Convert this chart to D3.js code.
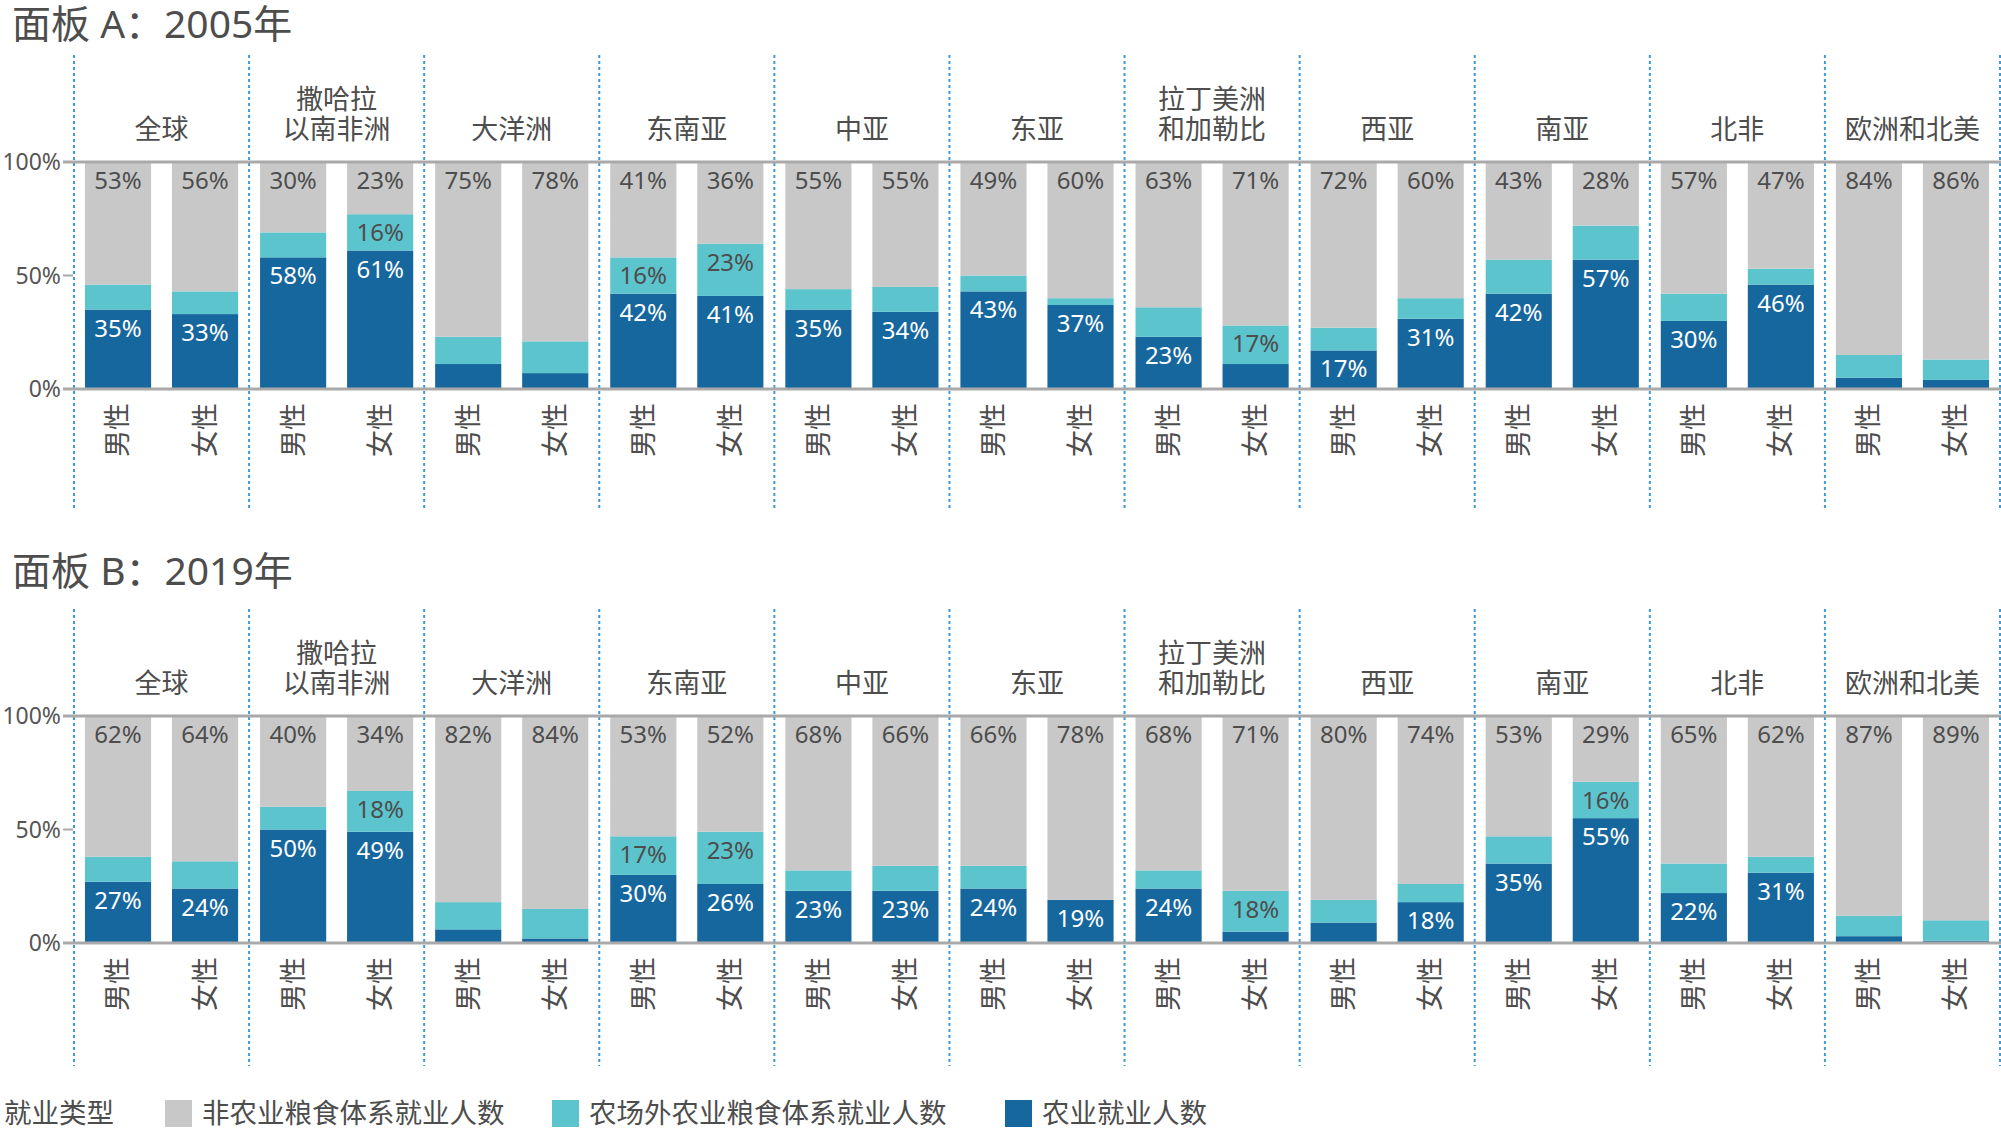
<!DOCTYPE html>
<html>
<head>
<meta charset="utf-8">
<script src="https://cdn.jsdelivr.net/npm/d3@7"></script>
<style>
  html, body { margin: 0; padding: 0; background: #ffffff; }
  svg { display: block; }
  text { font-family: "Noto Sans", "Noto Sans CJK SC", sans-serif; }
</style>
</head>
<body>
<svg id="chart" width="2001" height="1130"></svg>
<script>
// ---------------- DATA ----------------
const regions = [
  ["全球"], ["撒哈拉", "以南非洲"], ["大洋洲"], ["东南亚"], ["中亚"], ["东亚"],
  ["拉丁美洲", "和加勒比"], ["西亚"], ["南亚"], ["北非"], ["欧洲和北美"]
];
const sexes = ["男性", "女性"];
const panelTitles = ["面板 A：2005年", "面板 B：2019年"];
const yTicks = [0, 50, 100];
const yTickLabels = ["0%", "50%", "100%"];
const legendTitle = "就业类型";
const seriesNames = ["非农业粮食体系就业人数", "农场外农业粮食体系就业人数", "农业就业人数"];

// values per bar: order region0 男, region0 女, region1 男, ...
const agri2005    = [35,33, 58,61, 11,7, 42,41, 35,34, 43,37, 23,11, 17,31, 42,57, 30,46, 5,4];
const offFarm2005 = [11,10, 11,16, 12,14, 16,23, 9,11, 7,3, 13,17, 10,9, 15,15, 12,7, 10,9];
const nonAgri2005 = [53,56, 30,23, 75,78, 41,36, 55,55, 49,60, 63,71, 72,60, 43,28, 57,47, 84,86];

const agri2019    = [27,24, 50,49, 6,2, 30,26, 23,23, 24,19, 24,5, 9,18, 35,55, 22,31, 3,1];
const offFarm2019 = [11,12, 10,18, 12,13, 17,23, 9,11, 10,0, 8,18, 10,8, 12,16, 13,7, 9,9];
const nonAgri2019 = [62,64, 40,34, 82,84, 53,52, 68,66, 66,78, 68,71, 80,74, 53,29, 65,62, 87,89];

// ---------------- STYLE ----------------
const colAgri = "#16679e", colOff = "#5cc4cd", colNon = "#c8c8c8";
const textDark = "#4d4d4d";
const sepColor = "#3d9ad6";
const axisColor = "#a9a9a9";

const svg = d3.select("#chart");

const regionScale = d3.scaleBand()
  .domain(d3.range(regions.length))
  .range([74, 2000])
  .padding(0);
const sexScale = d3.scaleBand()
  .domain(sexes)
  .range([0, regionScale.bandwidth()])
  .paddingInner(0.24)
  .paddingOuter(0.126);

const panels = [
  { title: panelTitles[0], titleY: 38, y100: 162, y0: 389, sepTop: 55, sepBot: 510,
    agri: agri2005, off: offFarm2005, non: nonAgri2005 },
  { title: panelTitles[1], titleY: 585, y100: 716, y0: 943, sepTop: 609, sepBot: 1066,
    agri: agri2019, off: offFarm2019, non: nonAgri2019 }
];

const keys = ["agri", "off", "rest"];
const colors = { agri: colAgri, off: colOff, rest: colNon };

panels.forEach(p => {
  const g = svg.append("g");
  const y = d3.scaleLinear().domain([0, 100]).range([p.y0, p.y100]);

  // title
  g.append("text")
    .attr("x", 12).attr("y", p.titleY)
    .attr("font-size", 39).attr("fill", textDark)
    .text(p.title);

  const rows = [];
  regions.forEach((r, i) => {
    sexes.forEach((s, j) => {
      const k = i * 2 + j;
      rows.push({ region: i, sex: s, agri: p.agri[k], off: p.off[k],
                  non: p.non[k], rest: 100 - p.agri[k] - p.off[k] });
    });
  });

  const stacked = d3.stack().keys(keys)(rows);
  const xOf = d => regionScale(d.data.region) + sexScale(d.data.sex);

  // separators
  const sepX = i => i < regions.length ? regionScale(i) : regionScale(regions.length - 1) + regionScale.bandwidth();
  g.selectAll("line.sep")
    .data(d3.range(regions.length + 1))
    .join("line")
    .attr("x1", sepX).attr("x2", sepX)
    .attr("y1", p.sepTop).attr("y2", p.sepBot)
    .attr("stroke", sepColor).attr("stroke-width", 2)
    .attr("stroke-dasharray", "3,3");

  // bars
  stacked.forEach(layer => {
    g.append("g")
      .selectAll("rect")
      .data(layer)
      .join("rect")
      .attr("x", d => xOf(d))
      .attr("width", sexScale.bandwidth())
      .attr("y", d => y(d[1]))
      .attr("height", d => Math.max(0, y(d[0]) - y(d[1])))
      .attr("fill", colors[layer.key]);
  });

  // axis lines
  const axisG = g.append("g");
  [100, 0].forEach(v => {
    axisG.append("line")
      .attr("x1", 63).attr("x2", 2001)
      .attr("y1", y(v)).attr("y2", y(v))
      .attr("stroke", axisColor).attr("stroke-width", 3);
  });
  axisG.append("line")
    .attr("x1", 63).attr("x2", 73)
    .attr("y1", y(50)).attr("y2", y(50))
    .attr("stroke", axisColor).attr("stroke-width", 2);
  yTicks.forEach((v, i) => {
    axisG.append("text")
      .attr("x", 61).attr("y", y(v)).attr("dy", "0.36em")
      .attr("text-anchor", "end")
      .attr("font-size", 23).attr("fill", "#555555")
      .text(yTickLabels[i]);
  });

  // labels
  const lbl = g.append("g").attr("font-size", 24).attr("text-anchor", "middle");
  stacked.forEach(layer => {
    layer.forEach(d => {
      const cx = xOf(d) + sexScale.bandwidth() / 2;
      const v = layer.key === "rest" ? d.data.non : d.data[layer.key];
      let show = false, fill = textDark;
      if (layer.key === "rest") { show = true; }
      else if (layer.key === "off") { show = v >= 16; }
      else { show = v >= 15; fill = "#ffffff"; }
      if (!show) return;
      lbl.append("text")
        .attr("x", cx).attr("y", y(d[1]) + 27)
        .attr("fill", fill)
        .text(v + "%");
    });
  });

  // region labels (one text element with tspans per region)
  const rg = g.append("g").attr("font-size", 27).attr("fill", textDark).attr("text-anchor", "middle");
  regions.forEach((lines, i) => {
    const cx = regionScale(i) + regionScale.bandwidth() / 2;
    const t = rg.append("text")
      .attr("x", cx)
      .attr("y", p.y100 - 23 - (lines.length - 1) * 30);
    lines.forEach((ln, li) => {
      t.append("tspan")
        .attr("x", cx)
        .attr("dy", li === 0 ? 0 : 30)
        .text(ln);
    });
  });

  // sex labels (rotated)
  const sg = g.append("g").attr("font-size", 27).attr("fill", textDark);
  rows.forEach(d => {
    const cx = regionScale(d.region) + sexScale(d.sex) + sexScale.bandwidth() / 2;
    const ty = p.y0 + 14;
    sg.append("text")
      .attr("transform", `translate(${cx},${ty}) rotate(-90)`)
      .attr("text-anchor", "end")
      .attr("dy", "0.35em")
      .text(d.sex);
  });
});

// ---------------- LEGEND ----------------
const lg = svg.append("g").attr("font-size", 27.5).attr("fill", textDark);
lg.append("text").attr("x", 4).attr("y", 1123).text(legendTitle);
const legendItems = [
  { name: seriesNames[0], color: colNon, x: 165 },
  { name: seriesNames[1], color: colOff, x: 552 },
  { name: seriesNames[2], color: colAgri, x: 1005 }
];
legendItems.forEach(it => {
  lg.append("rect").attr("x", it.x).attr("y", 1100).attr("width", 27).attr("height", 27).attr("fill", it.color);
  lg.append("text").attr("x", it.x + 37).attr("y", 1123).text(it.name);
});
</script>
</body>
</html>
